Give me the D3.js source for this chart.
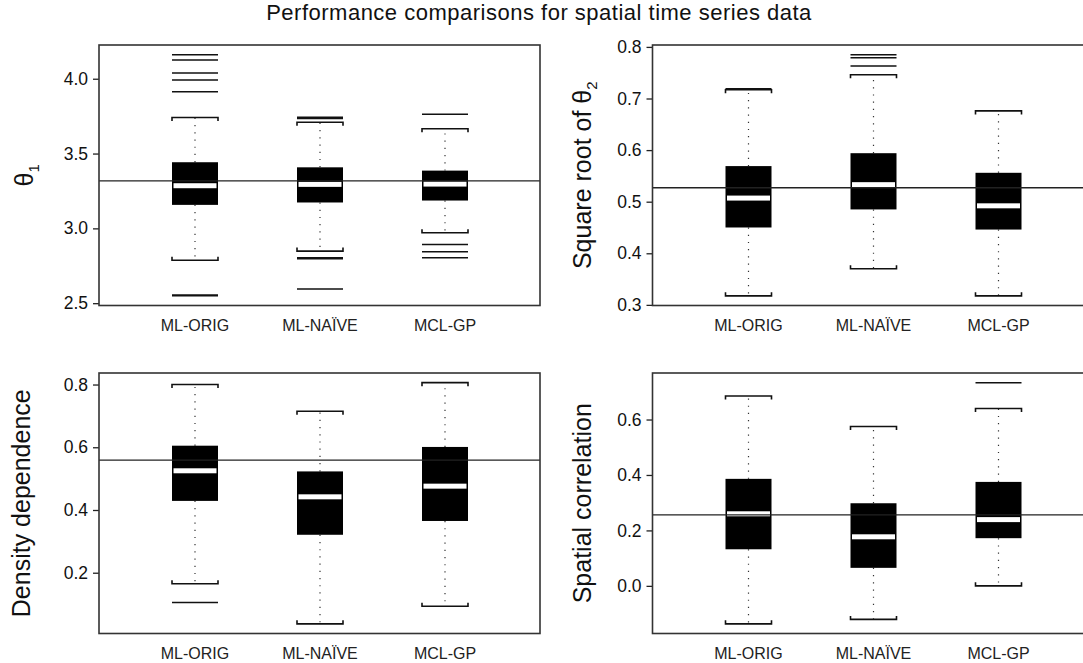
<!DOCTYPE html>
<html>
<head>
<meta charset="utf-8">
<script src="https://cdn.jsdelivr.net/npm/d3@7"></script>
<style>
  body { margin: 0; background: #fff; }
  svg { display: block; font-family: "Liberation Sans", Arial, Helvetica, sans-serif; }
</style>
</head>
<body>
<div id="chart"></div>
<script>
const groups = ["ML-ORIG", "ML-NAÏVE", "MCL-GP"];

// five-number summaries per group: [lower whisker, Q1, median, Q3, upper whisker]
const theta1Box = [
  [2.787, 3.157, 3.285, 3.442, 3.741],
  [2.848, 3.173, 3.294, 3.408, 3.709],
  [2.971, 3.186, 3.296, 3.386, 3.666]
];
const theta1Out = [
  [4.161, 4.126, 4.038, 3.991, 3.913, 2.555, 2.549],
  [3.742, 3.735, 2.803, 2.797, 2.594],
  [3.762, 2.892, 2.843, 2.803]
];
const theta1True = 3.318;
const theta1Ticks = [2.5, 3.0, 3.5, 4.0];

const sqrtTheta2Box = [
  [0.3175, 0.450, 0.507, 0.569, 0.717],
  [0.370, 0.485, 0.533, 0.594, 0.746],
  [0.3175, 0.446, 0.492, 0.556, 0.676]
];
const sqrtTheta2Out = [[0.719], [0.785, 0.779, 0.763], []];
const sqrtTheta2True = 0.527;
const sqrtTheta2Ticks = [0.3, 0.4, 0.5, 0.6, 0.7, 0.8];

const densityBox = [
  [0.165, 0.429, 0.525, 0.605, 0.800],
  [0.037, 0.321, 0.442, 0.523, 0.715],
  [0.093, 0.365, 0.476, 0.601, 0.806]
];
const densityOut = [[0.105], [], []];
const densityTrue = 0.559;
const densityTicks = [0.2, 0.4, 0.6, 0.8];

const spatialBox = [
  [-0.137, 0.132, 0.260, 0.386, 0.685],
  [-0.121, 0.065, 0.177, 0.298, 0.575],
  [0.0, 0.172, 0.239, 0.375, 0.640]
];
const spatialOut = [[], [], [0.733]];
const spatialTrue = 0.256;
const spatialTicks = [0.0, 0.2, 0.4, 0.6];

const W = 1083, H = 663;
const svg = d3.select("#chart").append("svg")
  .attr("width", W)
  .attr("height", H);

svg.append("text")
  .attr("x", 539)
  .attr("y", 20)
  .attr("text-anchor", "middle")
  .style("font-size", "22px")
  .style("letter-spacing", "0.5px")
  .attr("fill", "#111")
  .text("Performance comparisons for spatial time series data");

function drawPanel(p) {
  const pw = 441, ph = 260.5, boxHalf = 23;
  const g = svg.append("g");

  // R style: data range padded by 4% each side
  const all = p.box.flat().concat(p.out.flat());
  const lo = d3.min(all), hi = d3.max(all), pad = (hi - lo) * 0.04;
  const y = d3.scaleLinear().domain([lo - pad, hi + pad]).range([p.top + ph, p.top]);
  const x = d3.scaleLinear().domain([1, 3]).range([p.left + 96, p.left + 346]);

  // y axis
  const ax = g.append("g")
    .attr("transform", "translate(" + p.left + ",0)")
    .call(d3.axisLeft(y).tickValues(p.ticks).tickSize(6).tickPadding(5).tickFormat(d3.format(".1f")));
  ax.select(".domain").remove();
  ax.selectAll("line").attr("stroke", "#222").attr("stroke-width", 1.3);
  ax.selectAll("text").style("font-size", "17.5px").attr("fill", "#111")
    .style("font-family", "'Liberation Sans', Arial, sans-serif");

  // boxes
  groups.forEach((name, i) => {
    const [wl, q1, med, q3, wh] = p.box[i];
    const cx = x(i + 1);

    // dotted whiskers
    [[q3, wh], [q1, wl]].forEach(([a, b]) => {
      g.append("line")
        .attr("x1", cx).attr("x2", cx)
        .attr("y1", y(a)).attr("y2", y(b))
        .attr("stroke", "#333")
        .attr("stroke-width", 1.2)
        .attr("stroke-dasharray", "1.2,6");
    });

    // whisker caps with small end serifs pointing toward the box
    [[wh, 1], [wl, -1]].forEach(([v, dir]) => {
      const yy = y(v);
      g.append("path")
        .attr("d", "M" + (cx - boxHalf) + "," + (yy + dir * 3.5) + "V" + yy +
                   "H" + (cx + boxHalf) + "V" + (yy + dir * 3.5))
        .attr("fill", "none")
        .attr("stroke", "#111")
        .attr("stroke-width", 1.6);
    });

    // box
    g.append("rect")
      .attr("x", cx - boxHalf)
      .attr("y", y(q3))
      .attr("width", boxHalf * 2)
      .attr("height", y(q1) - y(q3))
      .attr("fill", "#000");

    // white median band
    g.append("rect")
      .attr("x", cx - boxHalf + 1.5)
      .attr("y", y(med) - 2.5)
      .attr("width", boxHalf * 2 - 3)
      .attr("height", 5)
      .attr("fill", "#fff");

    // outliers as full-width lines
    g.selectAll(null)
      .data(p.out[i])
      .enter().append("line")
      .attr("x1", cx - boxHalf).attr("x2", cx + boxHalf)
      .attr("y1", d => y(d)).attr("y2", d => y(d))
      .attr("stroke", "#111")
      .attr("stroke-width", 1.5);

    // group label
    g.append("text")
      .attr("x", cx)
      .attr("y", p.top + ph + 25)
      .attr("text-anchor", "middle")
      .style("font-size", "16px")
      .attr("fill", "#222")
      .text(name);
  });

  // true value line
  g.append("line")
    .attr("x1", p.left).attr("x2", p.left + pw)
    .attr("y1", y(p.truth)).attr("y2", y(p.truth))
    .attr("stroke", "#222")
    .attr("stroke-width", 1.3);

  // frame
  g.append("rect")
    .attr("x", p.left).attr("y", p.top)
    .attr("width", pw).attr("height", ph)
    .attr("fill", "none")
    .attr("stroke", "#333")
    .attr("stroke-width", 1.6);

  // y label (rotated)
  const lab = g.append("text")
    .attr("transform", "translate(" + p.labelX + "," + (p.top + ph / 2) + ") rotate(-90)")
    .attr("text-anchor", "middle")
    .style("font-size", "25px")
    .attr("fill", "#111");
  lab.append("tspan").text(p.label);
  if (p.sub) {
    lab.append("tspan").attr("dy", 6).style("font-size", "15px").text(p.sub);
  }
}

drawPanel({ left: 99, top: 45, labelX: 33, label: "θ", sub: "1",
  box: theta1Box, out: theta1Out, truth: theta1True, ticks: theta1Ticks });
drawPanel({ left: 652.5, top: 45, labelX: 591, label: "Square root of θ", sub: "2",
  box: sqrtTheta2Box, out: sqrtTheta2Out, truth: sqrtTheta2True, ticks: sqrtTheta2Ticks });
drawPanel({ left: 99, top: 373, labelX: 30, label: "Density dependence",
  box: densityBox, out: densityOut, truth: densityTrue, ticks: densityTicks });
drawPanel({ left: 652.5, top: 373, labelX: 591, label: "Spatial correlation",
  box: spatialBox, out: spatialOut, truth: spatialTrue, ticks: spatialTicks });
</script>
</body>
</html>
